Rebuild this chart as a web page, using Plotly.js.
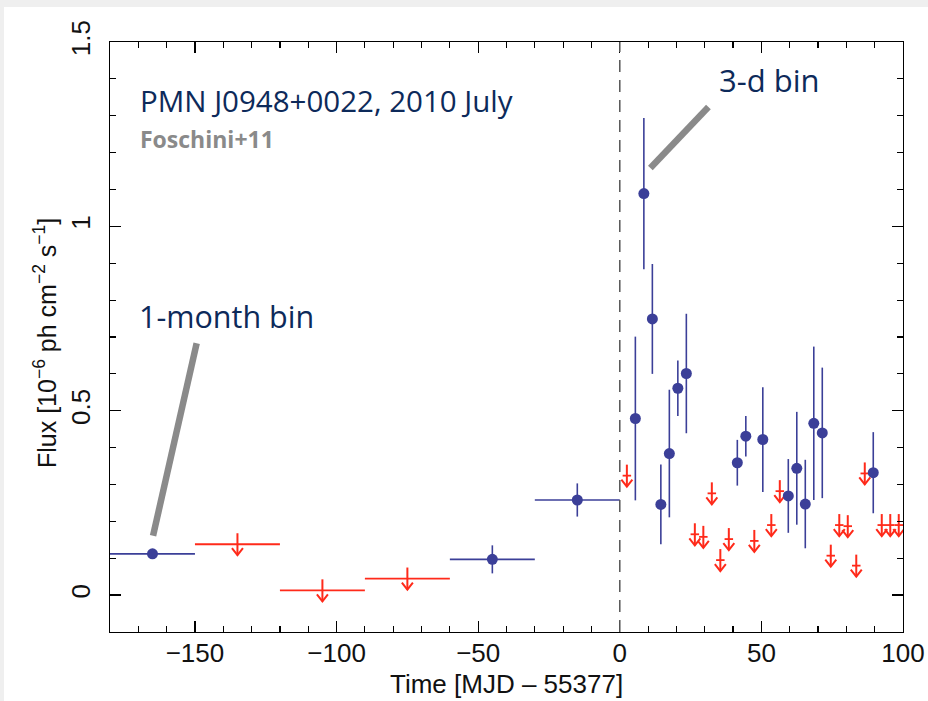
<!DOCTYPE html>
<html><head><meta charset="utf-8">
<script src="https://cdn.plot.ly/plotly-3.0.1.min.js"></script>
<style>
html,body{margin:0;padding:0;background:#efefef;width:928px;height:701px;overflow:hidden;}
#frame{position:absolute;left:4px;top:7px;width:924px;height:694px;background:#fff;}
#chart{width:924px;height:694px;}
</style></head><body><div id="frame"><div id="chart"></div></div>
<script>
// ---- data (time in days relative to MJD 55377, flux in 1e-6 ph cm^-2 s^-1) ----
const monthDetX   = [-165, -45, -15];
const monthDetY   = [0.112, 0.097, 0.258];
const monthDetErr = [0.008, 0.038, 0.045];
const monthHalfBin = 15;

const monthUlX = [-135, -105, -75];
const monthUlY = [0.138, 0.013, 0.045];

const dayDetX   = [5.5, 8.5, 11.5, 14.5, 17.5, 20.5, 23.5, 41.5, 44.5, 50.5, 59.5, 62.5, 65.5, 68.5, 71.5, 89.5];
const dayDetY   = [0.479, 1.089, 0.749, 0.246, 0.384, 0.561, 0.601, 0.359, 0.431, 0.422, 0.269, 0.344, 0.247, 0.466, 0.440, 0.332];
const dayDetErr = [0.222, 0.205, 0.149, 0.108, 0.173, 0.075, 0.162, 0.062, 0.055, 0.142, 0.100, 0.153, 0.120, 0.208, 0.177, 0.110];
const dayHalfBin = 1.5;

const dayUlX = [2.5, 26.5, 29.5, 32.5, 35.5, 38.5, 47.5, 53.5, 56.5, 74.5, 77.5, 80.5, 83.5, 86.5, 92.5, 95.5, 98.5];
const dayUlY = [0.324, 0.165, 0.158, 0.276, 0.095, 0.152, 0.147, 0.190, 0.282, 0.107, 0.190, 0.187, 0.080, 0.330, 0.190, 0.190, 0.190];

const xTickVals = [-150, -100, -50, 0, 50, 100];
const yTickVals = [0, 0.5, 1, 1.5];

// ---- layout geometry ----
const W = 924, H = 694;
const M = {l:106, r:25, t:35, b:69};
const PW = W - M.l - M.r, PH = H - M.t - M.b;
const XR = [-180, 100], YR = [-0.1, 1.5];
const ux = (XR[1]-XR[0]) / PW;   // data units per px
const uy = (YR[1]-YR[0]) / PH;

const BLUE = '#3b3f98', RED = '#ff2a1a', NAVY = '#0d2a5a', GREY = '#8a8a8a';

// page px -> paper coords
function P(xp, yp){ return {x:(xp-4-M.l)/PW, y:(H-M.b-(yp-7))/PH}; }

// upper-limit arrows built from data
function arrowTrace(xs, ys){
  const X=[], Y=[];
  const up=11*uy, dn=11*uy, hw=5.5*ux, hh=7*uy;
  xs.forEach((x,i)=>{
    const y=ys[i];
    X.push(x, x, null); Y.push(y+up, y-dn, null);
    X.push(x-hw, x, x+hw, null); Y.push(y-dn+hh, y-dn, y-dn+hh, null);
  });
  return {x:X, y:Y, mode:'lines', line:{color:RED, width:2}, hoverinfo:'skip', showlegend:false};
}
function barTrace(xs, ys, half){
  return {x:xs, y:ys, mode:'markers', marker:{size:1, color:'rgba(0,0,0,0)'},
    error_x:{type:'constant', value:half, color:RED, thickness:1.8, width:0},
    showlegend:false, hoverinfo:'skip'};
}

const traces = [
  barTrace(monthUlX, monthUlY, monthHalfBin),
  arrowTrace(monthUlX, monthUlY),
  barTrace(dayUlX, dayUlY, dayHalfBin),
  arrowTrace(dayUlX, dayUlY),
  {x:monthDetX, y:monthDetY, mode:'markers', marker:{size:11, color:BLUE},
   error_x:{type:'constant', value:monthHalfBin, color:BLUE, thickness:1.6, width:0},
   error_y:{type:'data', array:monthDetErr, color:BLUE, thickness:1.6, width:0}, showlegend:false},
  {x:dayDetX, y:dayDetY, mode:'markers', marker:{size:11, color:BLUE},
   error_x:{type:'constant', value:dayHalfBin, color:BLUE, thickness:1.6, width:0},
   error_y:{type:'data', array:dayDetErr, color:BLUE, thickness:1.6, width:0}, showlegend:false}
];

const tickFont = {family:'Liberation Sans, Arial, sans-serif', size:26, color:'#111'};
const axisCommon = {showline:true, linecolor:'#000', linewidth:1.3, mirror:'ticks',
  ticks:'inside', ticklen:11, tickwidth:1.3, tickcolor:'#000', showgrid:false, zeroline:false,
  tickfont:tickFont};

const a1 = P(138,100), a2 = P(138,139), a3 = P(717,80), a4 = P(137,316);
const xt = P(506,684), yt = P(45,343);

const layout = {
  width:W, height:H, margin:M, paper_bgcolor:'#fff', plot_bgcolor:'#fff',
  xaxis:Object.assign({}, axisCommon, {range:XR, tickvals:xTickVals, ticklabelstandoff:-3,
    minor:{dtick:10, tick0:0, ticks:'inside', ticklen:6, tickwidth:1.2, tickcolor:'#000'}}),
  yaxis:Object.assign({}, axisCommon, {range:YR, tickvals:yTickVals, tickangle:-90, ticklabelstandoff:8,
    minor:{dtick:0.1, tick0:0, ticks:'inside', ticklen:6, tickwidth:1.2, tickcolor:'#000'}}),
  shapes:[
    {type:'line', xref:'x', yref:'paper', x0:0, x1:0, y0:0, y1:1, line:{color:'#555', width:1.5, dash:'12px,8px'}},
    {type:'line', xref:'x', yref:'y', x0:10.8, y0:1.158, x1:31.3, y1:1.324, line:{color:GREY, width:6.5}},
    {type:'line', xref:'x', yref:'y', x0:-164.8, y0:0.161, x1:-149.4, y1:0.683, line:{color:GREY, width:6.5}}
  ],
  annotations:[
    {xref:'paper', yref:'paper', x:a1.x, y:a1.y, xanchor:'left', yanchor:'middle', showarrow:false,
     text:'PMN J0948+0022, 2010 July', font:{family:'Open Sans', size:29.5, color:NAVY}},
    {xref:'paper', yref:'paper', x:a2.x, y:a2.y, xanchor:'left', yanchor:'middle', showarrow:false,
     text:'<b>Foschini+11</b>', font:{family:'Open Sans', size:23, color:GREY}},
    {xref:'paper', yref:'paper', x:a3.x, y:a3.y, xanchor:'left', yanchor:'middle', showarrow:false,
     text:'3-d bin', font:{family:'Open Sans', size:31, color:NAVY}},
    {xref:'paper', yref:'paper', x:a4.x, y:a4.y, xanchor:'left', yanchor:'middle', showarrow:false,
     text:'1-month bin', font:{family:'Open Sans', size:30.5, color:NAVY}},
    {xref:'paper', yref:'paper', x:xt.x, y:xt.y, xanchor:'center', yanchor:'middle', showarrow:false,
     text:'Time [MJD – 55377]', font:{family:'Liberation Sans, Arial, sans-serif', size:26, color:'#111'}},
    {xref:'paper', yref:'paper', x:yt.x, y:yt.y, xanchor:'center', yanchor:'middle', showarrow:false, textangle:-90,
     text:'Flux [10<sup>−6</sup> ph cm<sup>−2</sup> s<sup>−1</sup>]', font:{family:'Liberation Sans, Arial, sans-serif', size:25, color:'#111'}}
  ]
};

Plotly.newPlot('chart', traces, layout, {displayModeBar:false, staticPlot:true});
</script></body></html>
